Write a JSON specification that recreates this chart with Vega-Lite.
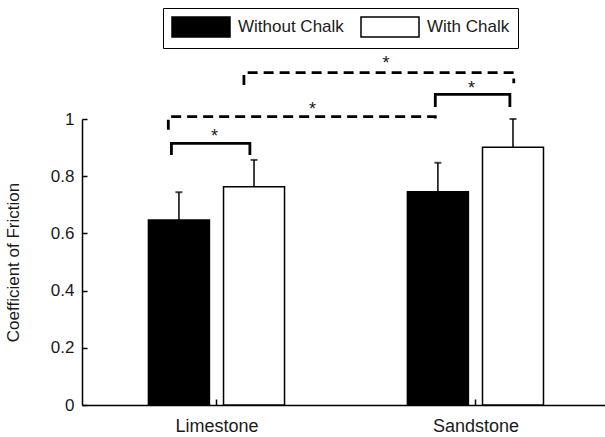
{
  "$schema": "https://vega.github.io/schema/vega-lite/v6.json",
  "width": 523,
  "height": 286,
  "autosize": {"type": "none"},
  "padding": {"left": 82, "right": 0, "top": 119, "bottom": 32},
  "background": "white",
  "config": {
    "view": {"stroke": null},
    "font": "Liberation Sans",
    "axis": {
      "grid": false,
      "domainColor": "black",
      "domainWidth": 1.5,
      "tickColor": "black",
      "tickWidth": 1.5,
      "labelColor": "#1a1a1a",
      "titleColor": "#1a1a1a",
      "labelFont": "Liberation Sans",
      "titleFont": "Liberation Sans",
      "labelFontSize": 17,
      "titleFontSize": 17,
      "titleFontWeight": "normal"
    }
  },
  "datasets": {
    "bars": [
      {"stone": "Limestone", "chalk": "Without Chalk", "pos": 0.855, "mean": 0.647, "upper": 0.744},
      {"stone": "Limestone", "chalk": "With Chalk", "pos": 1.145, "mean": 0.763, "upper": 0.857},
      {"stone": "Sandstone", "chalk": "Without Chalk", "pos": 1.855, "mean": 0.746, "upper": 0.847},
      {"stone": "Sandstone", "chalk": "With Chalk", "pos": 2.145, "mean": 0.901, "upper": 1.0}
    ],
    "brackets": [
      {"id": "Limestone", "compare": "chalk", "ord": 0, "pos": 0.826, "y": 0.874},
      {"id": "Limestone", "compare": "chalk", "ord": 1, "pos": 0.826, "y": 0.915},
      {"id": "Limestone", "compare": "chalk", "ord": 2, "pos": 1.129, "y": 0.915},
      {"id": "Limestone", "compare": "chalk", "ord": 3, "pos": 1.129, "y": 0.874},
      {"id": "Without Chalk", "compare": "stone", "ord": 0, "pos": 0.814, "y": 0.962},
      {"id": "Without Chalk", "compare": "stone", "ord": 1, "pos": 0.814, "y": 1.008},
      {"id": "Without Chalk", "compare": "stone", "ord": 2, "pos": 1.845, "y": 1.008},
      {"id": "Without Chalk", "compare": "stone", "ord": 3, "pos": 1.845, "y": 0.99},
      {"id": "Sandstone", "compare": "chalk", "ord": 0, "pos": 1.845, "y": 1.042},
      {"id": "Sandstone", "compare": "chalk", "ord": 1, "pos": 1.845, "y": 1.086},
      {"id": "Sandstone", "compare": "chalk", "ord": 2, "pos": 2.133, "y": 1.086},
      {"id": "Sandstone", "compare": "chalk", "ord": 3, "pos": 2.133, "y": 1.042},
      {"id": "With Chalk", "compare": "stone", "ord": 0, "pos": 1.106, "y": 1.119},
      {"id": "With Chalk", "compare": "stone", "ord": 1, "pos": 1.106, "y": 1.162},
      {"id": "With Chalk", "compare": "stone", "ord": 2, "pos": 2.148, "y": 1.162},
      {"id": "With Chalk", "compare": "stone", "ord": 3, "pos": 2.148, "y": 1.125}
    ],
    "stars": [
      {"id": "Limestone", "label": "*", "pos": 0.992, "y": 0.937},
      {"id": "Without Chalk", "label": "*", "pos": 1.371, "y": 1.031},
      {"id": "Sandstone", "label": "*", "pos": 1.985, "y": 1.105},
      {"id": "With Chalk", "label": "*", "pos": 1.655, "y": 1.192}
    ]
  },
  "layer": [
    {
      "data": {"name": "bars"},
      "mark": {"type": "bar", "orient": "vertical", "size": 61, "stroke": "black", "strokeWidth": 1.5},
      "encoding": {
        "x": {
          "field": "pos",
          "type": "quantitative",
          "scale": {"domain": [0.5, 2.481], "nice": false, "zero": false},
          "axis": {
            "values": [1, 2],
            "labelExpr": "datum.value == 1 ? 'Limestone' : 'Sandstone'",
            "title": null,
            "tickSize": -6,
            "labelPadding": 18,
            "labelFontSize": 18
          }
        },
        "y": {
          "field": "mean",
          "type": "quantitative",
          "scale": {"domain": [0, 1], "nice": false},
          "axis": {
            "values": [0, 0.2, 0.4, 0.6, 0.8, 1],
            "labelExpr": "'' + datum.value",
            "title": "Coefficient of Friction",
            "tickSize": -5,
            "labelPadding": 13,
            "titlePadding": 28
          }
        },
        "fill": {
          "field": "chalk",
          "type": "nominal",
          "scale": {"domain": ["Without Chalk", "With Chalk"], "range": ["black", "white"]},
          "legend": {
            "title": null,
            "orient": "none",
            "legendX": 81,
            "legendY": -111,
            "direction": "horizontal",
            "strokeColor": "black",
            "fillColor": "white",
            "padding": 8,
            "symbolType": "M-1,-1H4.8V1H-1Z",
            "symbolSize": 400,
            "symbolStrokeColor": "black",
            "symbolStrokeWidth": 1.5,
            "symbolOpacity": 1,
            "labelFont": "Liberation Sans",
            "labelFontSize": 17,
            "labelColor": "#1a1a1a",
            "labelOffset": 45,
            "columnPadding": 14
          }
        }
      }
    },
    {
      "data": {"name": "bars"},
      "mark": {"type": "rule", "color": "black", "strokeWidth": 1.5},
      "encoding": {
        "x": {"field": "pos", "type": "quantitative"},
        "y": {"field": "mean", "type": "quantitative"},
        "y2": {"field": "upper"}
      }
    },
    {
      "data": {"name": "bars"},
      "mark": {"type": "tick", "orient": "horizontal", "size": 7, "thickness": 2, "color": "black"},
      "encoding": {
        "x": {"field": "pos", "type": "quantitative"},
        "y": {"field": "upper", "type": "quantitative"}
      }
    },
    {
      "data": {"name": "brackets"},
      "mark": {"type": "line", "color": "black", "strokeWidth": 2.8, "interpolate": "linear"},
      "encoding": {
        "x": {"field": "pos", "type": "quantitative"},
        "y": {"field": "y", "type": "quantitative"},
        "detail": {"field": "id", "type": "nominal"},
        "order": {"field": "ord", "type": "quantitative"},
        "strokeDash": {
          "condition": {"test": "datum.compare == 'stone'", "value": [10, 6]},
          "value": [1, 0]
        }
      }
    },
    {
      "data": {"name": "stars"},
      "mark": {"type": "text", "fontSize": 18, "color": "#1a1a1a", "baseline": "middle", "align": "center", "font": "Liberation Sans"},
      "encoding": {
        "x": {"field": "pos", "type": "quantitative"},
        "y": {"field": "y", "type": "quantitative"},
        "text": {"field": "label"}
      }
    }
  ]
}
